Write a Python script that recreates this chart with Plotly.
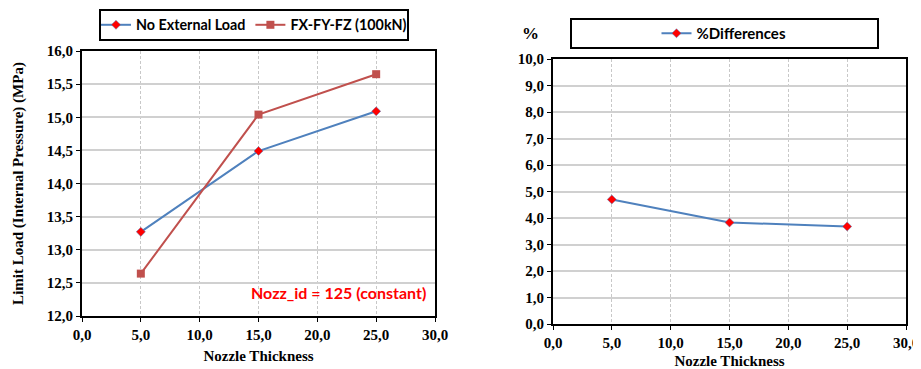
import plotly.graph_objects as go

thickness = [5.0, 15.0, 25.0]
no_load = [13.27, 14.49, 15.09]
fxfyfz = [12.64, 15.04, 15.65]
pct_diff = [4.70, 3.83, 3.68]

BLUE = "#4F81BD"
RED = "#C0504D"
serif = "Liberation Serif"
sans = "Lato"

fig = go.Figure()
fig.add_trace(go.Scatter(x=thickness, y=no_load, name="No External Load", mode="lines+markers",
                         line=dict(color=BLUE, width=2),
                         marker=dict(symbol="diamond", size=7, color="#FF0000", line=dict(color=BLUE, width=0.5)),
                         xaxis="x", yaxis="y", legend="legend"))
fig.add_trace(go.Scatter(x=thickness, y=fxfyfz, name="FX-FY-FZ (100kN)", mode="lines+markers",
                         line=dict(color=RED, width=2),
                         marker=dict(symbol="square", size=8, color=RED),
                         xaxis="x", yaxis="y", legend="legend"))
fig.add_trace(go.Scatter(x=thickness, y=pct_diff, name="%Differences", mode="lines+markers",
                         line=dict(color=BLUE, width=2),
                         marker=dict(symbol="diamond", size=7, color="#FF0000", line=dict(color=BLUE, width=0.5)),
                         xaxis="x2", yaxis="y2", legend="legend2"))

# page body has an 8px margin: figure occupies screen (8..921, 8..369)
OFF = 8
W, H = 921 - OFF, 369 - OFF
def px(x): return (x - OFF) / W
def py(y): return 1 - (y - OFF) / H

axis_common = dict(showline=True, mirror=True, linecolor="black", linewidth=2,
                   ticks="outside", ticklen=4, tickcolor="black", tickwidth=1,
                   tickfont=dict(family=serif, size=15, color="black", weight="bold"),
                   tickformat=".1f", zeroline=False, automargin=False)

xtitle = dict(text="Nozzle Thickness", font=dict(family=serif, size=15, color="black", weight="bold"), standoff=8)

fig.update_layout(
    width=W, height=H, margin=dict(l=0, r=0, t=0, b=0),
    paper_bgcolor="white", plot_bgcolor="white",
    separators=",.",
    xaxis=dict(domain=[px(82), px(435)], range=[0, 30], dtick=5, anchor="y",
               showgrid=True, gridcolor="#C8C8C8", griddash="3px,2px", gridwidth=1,
               title=xtitle, **axis_common),
    yaxis=dict(domain=[py(316), py(51)], range=[12, 16], dtick=0.5, anchor="x",
               showgrid=True, gridcolor="#D0D0D0", gridwidth=1.5,
               title=dict(text="Limit Load (Internal Pressure) (MPa)",
                          font=dict(family=serif, size=15, color="black", weight="bold"), standoff=20),
               **axis_common),
    xaxis2=dict(domain=[px(553), px(906)], range=[0, 30], dtick=5, anchor="y2",
                showgrid=True, gridcolor="#C8C8C8", griddash="3px,2px", gridwidth=1,
                title=xtitle, **axis_common),
    yaxis2=dict(domain=[py(324), py(59)], range=[0, 10], dtick=1, anchor="x2",
                showgrid=True, gridcolor="#D0D0D0", gridwidth=1.5,
                **axis_common),
    legend=dict(orientation="h", x=px(254), xanchor="center", y=py(25), yanchor="middle",
                borderwidth=0, bgcolor="rgba(0,0,0,0)", itemwidth=30,
                font=dict(family=sans, size=14.3, color="black", weight="bold")),
    legend2=dict(orientation="h", x=px(724), xanchor="center", y=py(33.5), yanchor="middle",
                 borderwidth=0, bgcolor="rgba(0,0,0,0)", itemwidth=30,
                 font=dict(family=sans, size=15, color="black", weight="bold")),
    shapes=[
        dict(type="rect", xref="paper", yref="paper", x0=px(100), x1=px(408), y0=py(40), y1=py(10),
             line=dict(color="black", width=2), fillcolor="rgba(0,0,0,0)", layer="below"),
        dict(type="rect", xref="paper", yref="paper", x0=px(571), x1=px(878), y0=py(48), y1=py(19),
             line=dict(color="black", width=2), fillcolor="rgba(0,0,0,0)", layer="below"),
    ],
    annotations=[
        dict(text="<b>Nozz_id = 125 (constant)</b>", x=px(338), y=py(292), xref="paper", yref="paper",
             xanchor="center", yanchor="middle",
             showarrow=False, font=dict(family=sans, size=16, color="#FF0000")),
        dict(text="<b>%</b>", x=px(530), y=py(33), xref="paper", yref="paper",
             xanchor="center", yanchor="middle",
             showarrow=False, font=dict(family=serif, size=17, color="black")),
    ],
)

fig.write_html("out.html")
